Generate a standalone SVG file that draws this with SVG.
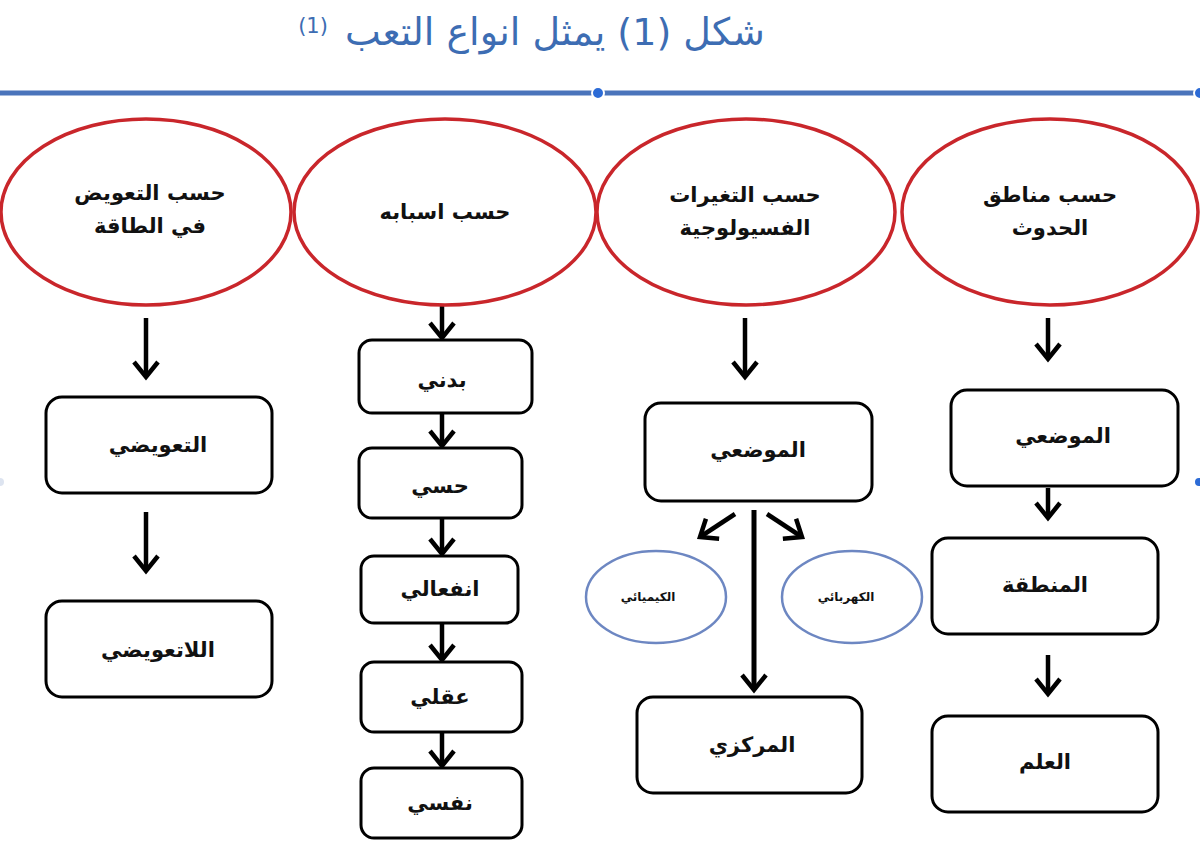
<svg xmlns="http://www.w3.org/2000/svg" width="1200" height="851" viewBox="0 0 1200 851">
<defs>
<style>
.title{font-family:"DejaVu Sans","Noto Sans",sans-serif;fill:#3d6db3;font-size:38px}
.sup{font-family:"DejaVu Sans","Noto Sans",sans-serif;fill:#3d6db3;font-size:21px}
.red{fill:#fff;stroke:#c9262b;stroke-width:3.5}
.blue{fill:#fff;stroke:#6d87c2;stroke-width:2.5}
.box{fill:#fff;stroke:#000;stroke-width:3}
.lbl{font-family:"DejaVu Sans","Liberation Sans",sans-serif;font-weight:bold;font-size:21px;fill:#111;text-anchor:middle;dominant-baseline:central}
.sm{font-family:"DejaVu Sans","Liberation Sans",sans-serif;font-weight:bold;font-size:12px;fill:#111;text-anchor:middle;dominant-baseline:central}
.conn{fill:none;stroke:#000;stroke-width:4.5;marker-end:url(#ah)}
.dot{fill:#2c6bd6;stroke:#fff;stroke-width:2}
</style>
<marker id="ah" viewBox="-20 -16 24 32" refX="0" refY="0" markerWidth="24" markerHeight="32" orient="auto" markerUnits="userSpaceOnUse">
<path d="M-15,-12 L0,0 L-15,12" fill="none" stroke="#000" stroke-width="4.5" stroke-linejoin="miter"/>
</marker>
</defs>
<rect width="1200" height="851" fill="#fff"/>
<g id="title">
<text class="title" x="555" y="45" text-anchor="middle" direction="rtl">شكل (1) يمثل انواع التعب</text>
<text class="sup" x="313" y="33" text-anchor="middle">(1)</text>
</g>
<g id="rule">
<line x1="0" y1="93" x2="1200" y2="93" stroke="#4a74bb" stroke-width="5"/>
<circle class="dot" cx="598" cy="93" r="6"/>
<circle class="dot" cx="1200" cy="93" r="6"/>
<circle cx="0" cy="482" r="4" fill="#dde4f0"/>
<circle class="dot" cx="1199" cy="482" r="5"/>
</g>
<g id="connectors">
<path class="conn" d="M146,318 V377"/>
<path class="conn" d="M146,512 V571"/>
<path class="conn" d="M442,303 V338"/>
<path class="conn" d="M442,413 V446"/>
<path class="conn" d="M442,519 V554"/>
<path class="conn" d="M442,624 V660"/>
<path class="conn" d="M442,733 V766"/>
<path class="conn" d="M745,318 V377"/>
<path class="conn" d="M754,510 V690" style="stroke-width:5"/>
<path class="conn" d="M735,514 L700,537"/>
<path class="conn" d="M767,514 L802,537"/>
<path class="conn" d="M1048,318 V359"/>
<path class="conn" d="M1048,488 V518"/>
<path class="conn" d="M1048,655 V694"/>
</g>
<g id="n-energy">
<ellipse class="red" cx="146" cy="212" rx="145" ry="93"/>
<text class="lbl" x="150" y="193" direction="rtl">حسب التعويض</text>
<text class="lbl" x="150" y="226" direction="rtl">في الطاقة</text>
</g>
<g id="n-causes">
<ellipse class="red" cx="445" cy="212" rx="151" ry="93"/>
<text class="lbl" x="445" y="212" direction="rtl">حسب اسبابه</text>
</g>
<g id="n-physio">
<ellipse class="red" cx="746" cy="212" rx="149" ry="93"/>
<text class="lbl" x="745" y="195" direction="rtl">حسب التغيرات</text>
<text class="lbl" x="745" y="228" direction="rtl">الفسيولوجية</text>
</g>
<g id="n-region">
<ellipse class="red" cx="1050" cy="212" rx="148" ry="93"/>
<text class="lbl" x="1050" y="195" direction="rtl">حسب مناطق</text>
<text class="lbl" x="1050" y="228" direction="rtl">الحدوث</text>
</g>
<g id="n-comp">
<rect class="box" x="46" y="397" width="226" height="96" rx="16"/>
<text class="lbl" x="158" y="445">التعويضي</text>
</g>
<g id="n-noncomp">
<rect class="box" x="46" y="601" width="226" height="96" rx="16"/>
<text class="lbl" x="158" y="650">اللاتعويضي</text>
</g>
<g id="n-physical">
<rect class="box" x="359" y="340" width="173" height="73" rx="13"/>
<text class="lbl" x="442" y="380">بدني</text>
</g>
<g id="n-sensory">
<rect class="box" x="359" y="448" width="163" height="70" rx="13"/>
<text class="lbl" x="440" y="486">حسي</text>
</g>
<g id="n-emotional">
<rect class="box" x="361" y="556" width="157" height="67" rx="13"/>
<text class="lbl" x="440" y="589">انفعالي</text>
</g>
<g id="n-mental">
<rect class="box" x="361" y="662" width="161" height="70" rx="13"/>
<text class="lbl" x="440" y="697">عقلي</text>
</g>
<g id="n-psych">
<rect class="box" x="361" y="768" width="161" height="70" rx="13"/>
<text class="lbl" x="440" y="803">نفسي</text>
</g>
<g id="n-local3">
<rect class="box" x="645" y="403" width="227" height="98" rx="16"/>
<text class="lbl" x="758" y="450">الموضعي</text>
</g>
<g id="n-chem">
<ellipse class="blue" cx="656" cy="597" rx="70" ry="46"/>
<text class="sm" x="648" y="597">الكيميائي</text>
</g>
<g id="n-elec">
<ellipse class="blue" cx="852" cy="597" rx="70" ry="46"/>
<text class="sm" x="846" y="597">الكهربائي</text>
</g>
<g id="n-central">
<rect class="box" x="637" y="697" width="225" height="96" rx="16"/>
<text class="lbl" x="752" y="745">المركزي</text>
</g>
<g id="n-local4">
<rect class="box" x="951" y="390" width="227" height="96" rx="16"/>
<text class="lbl" x="1063" y="436">الموضعي</text>
</g>
<g id="n-area">
<rect class="box" x="932" y="538" width="226" height="96" rx="16"/>
<text class="lbl" x="1045" y="585">المنطقة</text>
</g>
<g id="n-general">
<rect class="box" x="932" y="716" width="226" height="96" rx="16"/>
<text class="lbl" x="1045" y="762">العلم</text>
</g>
</svg>
